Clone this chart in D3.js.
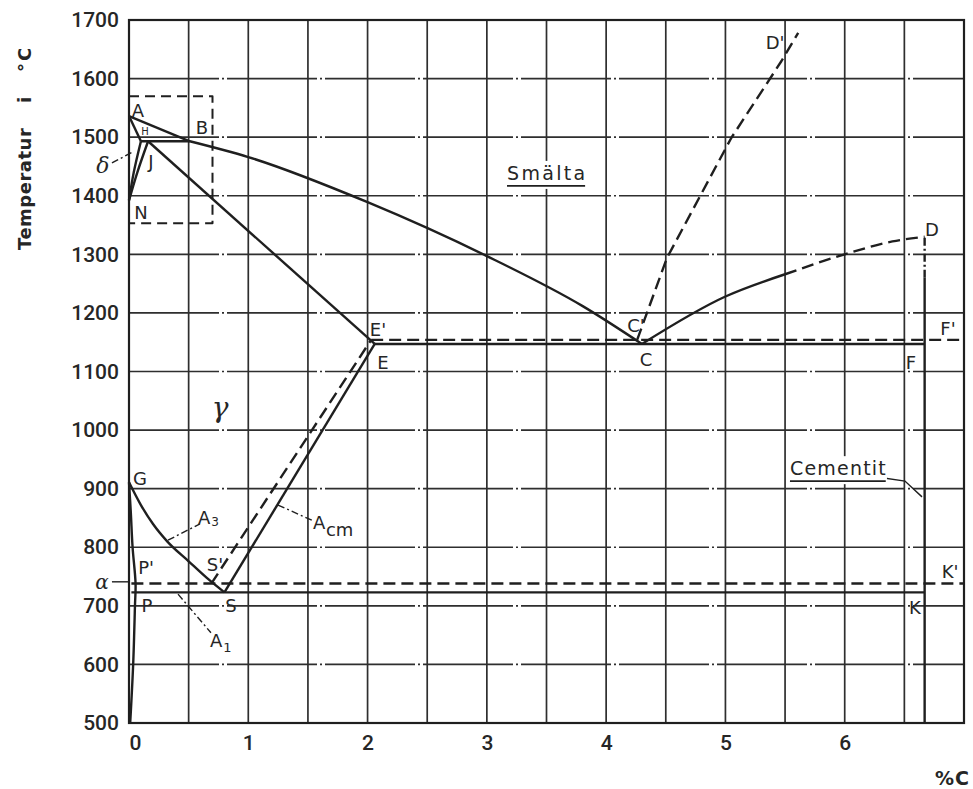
<!DOCTYPE html>
<html>
<head>
<meta charset="utf-8">
<script src="https://cdn.jsdelivr.net/npm/d3@7"></script>
<style>
  body { margin: 0; background: #fff; }
  svg text { fill: #262626; }
</style>
</head>
<body>
<svg id="chart" width="973" height="789"></svg>
<script>
// ---- Axis ticks and grid ----
const carbonTicks = [0, 1, 2, 3, 4, 5, 6];
const tempTicks = [500, 600, 700, 800, 900, 1000, 1100, 1200, 1300, 1400, 1500, 1600, 1700];
const carbonGrid = [0.5, 1, 1.5, 2, 2.5, 3, 3.5, 4, 4.5, 5, 5.5, 6, 6.5];
const tempGrid = [600, 700, 800, 900, 1000, 1100, 1200, 1300, 1400, 1500, 1600];

// ---- Phase boundaries: [wt-% C, temperature °C] ----
const liquidusAB   = [[0, 1536], [0.51, 1493]];
const solidusAH    = [[0, 1536], [0.10, 1493]];
const peritecticHB = [[0.10, 1493], [0.51, 1493]];
const deltaNH      = [[0, 1392], [0.04, 1440], [0.10, 1493]];
const deltaNJ      = [[0, 1392], [0.07, 1440], [0.16, 1493]];
const liquidusBC   = [[0.51, 1493], [1, 1466], [2, 1389], [3, 1297], [3.8, 1212], [4.3, 1147]];
const solidusJE    = [[0.16, 1493], [2.06, 1147]];
const eutecticECF  = [[2.06, 1147], [6.67, 1147]];
const eutecticGraphite = [[2.03, 1154], [7, 1154]];
const liquidusCDsolid  = [[4.3, 1147], [5.0, 1228], [5.5, 1266]];
const liquidusCDdashed = [[5.5, 1266], [6.0, 1300], [6.4, 1322], [6.67, 1330]];
const liquidusGraphite = [[4.26, 1154], [4.51, 1294], [5.05, 1499], [5.47, 1630], [5.61, 1678]];
const lineGS       = [[0, 911], [0.1, 872], [0.2, 840], [0.32, 810], [0.5, 776], [0.65, 748], [0.8, 723]];
const lineSE       = [[0.8, 723], [2.06, 1147]];
const lineSEgraphite = [[0.69, 738], [2.03, 1154]];
const eutectoidPSK = [[0.02, 723], [6.67, 723]];
const eutectoidGraphite = [[0.02, 738], [7, 738]];
const ferriteGPQ   = [[0, 911], [0.015, 860], [0.03, 800], [0.055, 738], [0.05, 700], [0.035, 600], [0.01, 500]];
const cementiteSolid  = [[6.67, 500], [6.67, 1260]];
const cementiteDashed = [[6.67, 1260], [6.67, 1330]];
const deltaBox     = [[0, 1570], [0.7, 1570], [0.7, 1353], [0, 1353]];

// ---- Scales ----
const x = d3.scaleLinear().domain([0, 7]).range([129, 964]);
const y = d3.scaleLinear().domain([500, 1700]).range([723, 20]);

const svg = d3.select("#chart");
const ink = "#1f1f1f";

// ---- Grid ----
const grid = svg.append("g").attr("stroke", "#2e2e2e").attr("stroke-width", 1.7);
grid.selectAll("line.v").data(carbonGrid).join("line")
  .attr("x1", d => x(d)).attr("x2", d => x(d))
  .attr("y1", y(500)).attr("y2", y(1700));
grid.selectAll("line.h").data(tempGrid).join("line")
  .attr("x1", x(0)).attr("x2", x(7))
  .attr("y1", d => y(d)).attr("y2", d => y(d))
  .attr("stroke-dasharray", "90,3,2,3");

// frame
svg.append("rect")
  .attr("x", x(0)).attr("y", y(1700))
  .attr("width", x(7) - x(0)).attr("height", y(500) - y(1700))
  .attr("fill", "none").attr("stroke", ink).attr("stroke-width", 2.2);

// ---- Axes ----
const yAxis = svg.append("g")
  .attr("transform", `translate(${x(0)},0)`)
  .call(d3.axisLeft(y).tickValues(tempTicks).tickSize(0).tickPadding(10).tickFormat(d3.format("d")));
yAxis.select(".domain").remove();
yAxis.selectAll("text")
  .attr("font-family", "Roboto").attr("font-weight", 500).attr("font-size", 21)
  .attr("fill", "#262626");

const xAxis = svg.append("g")
  .attr("transform", `translate(0,${y(500)})`)
  .call(d3.axisBottom(x).tickValues(carbonTicks).tickSize(0).tickPadding(12).tickFormat(d3.format("d")));
xAxis.select(".domain").remove();
xAxis.selectAll("text")
  .attr("font-family", "Roboto").attr("font-weight", 500).attr("font-size", 21)
  .attr("fill", "#262626")
  .attr("dx", d => d === 0 ? 6 : 0);

// axis titles
const yTitle = svg.append("g").attr("transform", "translate(31,0) rotate(-90)")
  .attr("font-family", "DejaVu Sans").attr("font-weight", "bold").attr("font-size", 18);
yTitle.append("text").attr("x", -250).attr("y", 0).attr("letter-spacing", 0.5).text("Temperatur");
yTitle.append("text").attr("x", -100).attr("y", 0).attr("text-anchor", "middle").text("i");
yTitle.append("text").attr("x", -72).attr("y", 0).attr("letter-spacing", 2).text("°C");

svg.append("text")
  .attr("x", x(7) + 6).attr("y", 785)
  .attr("text-anchor", "end")
  .attr("font-family", "DejaVu Sans").attr("font-weight", "bold").attr("font-size", 19)
  .attr("letter-spacing", 1)
  .text("%C");

// ---- Boundaries ----
const linear = d3.line().x(d => x(d[0])).y(d => y(d[1]));
const smooth = d3.line().x(d => x(d[0])).y(d => y(d[1])).curve(d3.curveCatmullRom.alpha(0.5));
const mono = d3.line().x(d => x(d[0])).y(d => y(d[1])).curve(d3.curveMonotoneX);

const dash = "12,6";
const curves = [
  [liquidusAB, linear, null],
  [solidusAH, linear, null],
  [peritecticHB, linear, null],
  [deltaNH, smooth, null],
  [deltaNJ, smooth, null],
  [liquidusBC, mono, null],
  [solidusJE, linear, null],
  [eutecticECF, linear, null],
  [eutecticGraphite, linear, dash],
  [liquidusCDsolid, mono, null],
  [liquidusCDdashed, mono, dash],
  [liquidusGraphite, linear, dash],
  [lineGS, mono, null],
  [lineSE, linear, null],
  [lineSEgraphite, linear, dash],
  [eutectoidPSK, linear, null],
  [eutectoidGraphite, linear, dash],
  [ferriteGPQ, smooth, null],
  [cementiteSolid, linear, null],
  [cementiteDashed, linear, "8,3,2,3"],
  [deltaBox, linear, "10,6"]
];
svg.append("g").selectAll("path").data(curves).join("path")
  .attr("d", d => d[1](d[0]))
  .attr("fill", "none")
  .attr("stroke", ink)
  .attr("stroke-width", d => d[0] === deltaBox ? 2 : 2.4)
  .attr("stroke-linejoin", "round")
  .attr("stroke-dasharray", d => d[2]);

// ---- Leader lines ----
const leaders = [
  [[-0.143, 1456], [0.034, 1475]],
  [[-0.143, 741], [0, 741]],
  [[0.327, 812], [0.595, 840]],
  [[1.249, 872], [1.534, 846]],
  [[0.411, 720], [0.687, 654]],
  [[6.271, 920], [6.505, 913], [6.648, 886]]
];
svg.append("g").selectAll("path").data(leaders).join("path")
  .attr("d", d => linear(d))
  .attr("fill", "none").attr("stroke", ink).attr("stroke-width", 1.4)
  .attr("stroke-dasharray", (d, i) => i === 1 || i === 5 ? null : "7,3,2,3");

// ---- Point labels ----
const pointLabels = [
  ["A", 0.075, 1545], ["B", 0.612, 1517], ["J", 0.184, 1458], ["N", 0.10, 1371],
  ["E'", 2.087, 1171], ["E", 2.129, 1116], ["C'", 4.25, 1179], ["C", 4.334, 1120],
  ["D'", 5.416, 1662], ["D", 6.732, 1342], ["F'", 6.866, 1174], ["F", 6.556, 1116],
  ["G", 0.092, 918], ["S'", 0.721, 770], ["S", 0.855, 700], ["P'", 0.143, 766],
  ["P", 0.151, 701], ["K'", 6.883, 758], ["K", 6.589, 698]
];
const labels = svg.append("g")
  .attr("font-family", "DejaVu Sans").attr("font-size", 18);
labels.selectAll("text").data(pointLabels).join("text")
  .attr("x", d => x(d[1])).attr("y", d => y(d[2]))
  .attr("text-anchor", "middle").attr("dominant-baseline", "central")
  .text(d => d[0]);

labels.append("text")
  .attr("x", x(0.134)).attr("y", y(1509))
  .attr("text-anchor", "middle").attr("dominant-baseline", "central")
  .attr("font-size", 10).text("H");

// Greek phase symbols
const greek = [["δ", -0.218, 1452, 22], ["α", -0.226, 741, 20], ["γ", 0.763, 1039, 28]];
svg.append("g").attr("font-family", "DejaVu Serif").attr("font-style", "italic")
  .selectAll("text").data(greek).join("text")
  .attr("x", d => x(d[1])).attr("y", d => y(d[2]))
  .attr("font-size", d => d[3])
  .attr("text-anchor", "middle").attr("dominant-baseline", "central")
  .text(d => d[0]);

// Transformation lines A3, Acm, A1
function subLabel(main, sub, c, t, subSize, subDy) {
  const tx = svg.append("text")
    .attr("x", x(c)).attr("y", y(t))
    .attr("font-family", "DejaVu Sans").attr("font-size", 18)
    .attr("dominant-baseline", "central");
  tx.append("tspan").text(main);
  tx.append("tspan").attr("font-size", subSize).attr("dy", subDy).attr("dx", 1).text(sub);
}
subLabel("A", "3", 0.578, 852, 12, 5);
subLabel("A", "cm", 1.542, 843, 18, 7);
subLabel("A", "1", 0.679, 642, 13, 7);

// Region names, underlined, with a white knock-out behind them
function regionLabel(text, c, t, spacing) {
  const g = svg.append("g");
  const tx = g.append("text")
    .attr("x", x(c)).attr("y", y(t))
    .attr("font-family", "DejaVu Sans").attr("font-size", 19)
    .attr("letter-spacing", spacing)
    .attr("dominant-baseline", "central")
    .text(text);
  const b = tx.node().getBBox();
  g.insert("rect", "text")
    .attr("x", b.x - 2).attr("y", b.y - 1)
    .attr("width", b.width + 2).attr("height", b.height + 6)
    .attr("fill", "#fff");
  g.append("line")
    .attr("x1", b.x).attr("x2", b.x + b.width - spacing)
    .attr("y1", b.y + b.height + 2).attr("y2", b.y + b.height + 2)
    .attr("stroke", ink).attr("stroke-width", 1.6);
}
regionLabel("Smälta", 3.169, 1439, 2.3);
regionLabel("Cementit", 5.541, 935, 1.2);
</script>
</body>
</html>
